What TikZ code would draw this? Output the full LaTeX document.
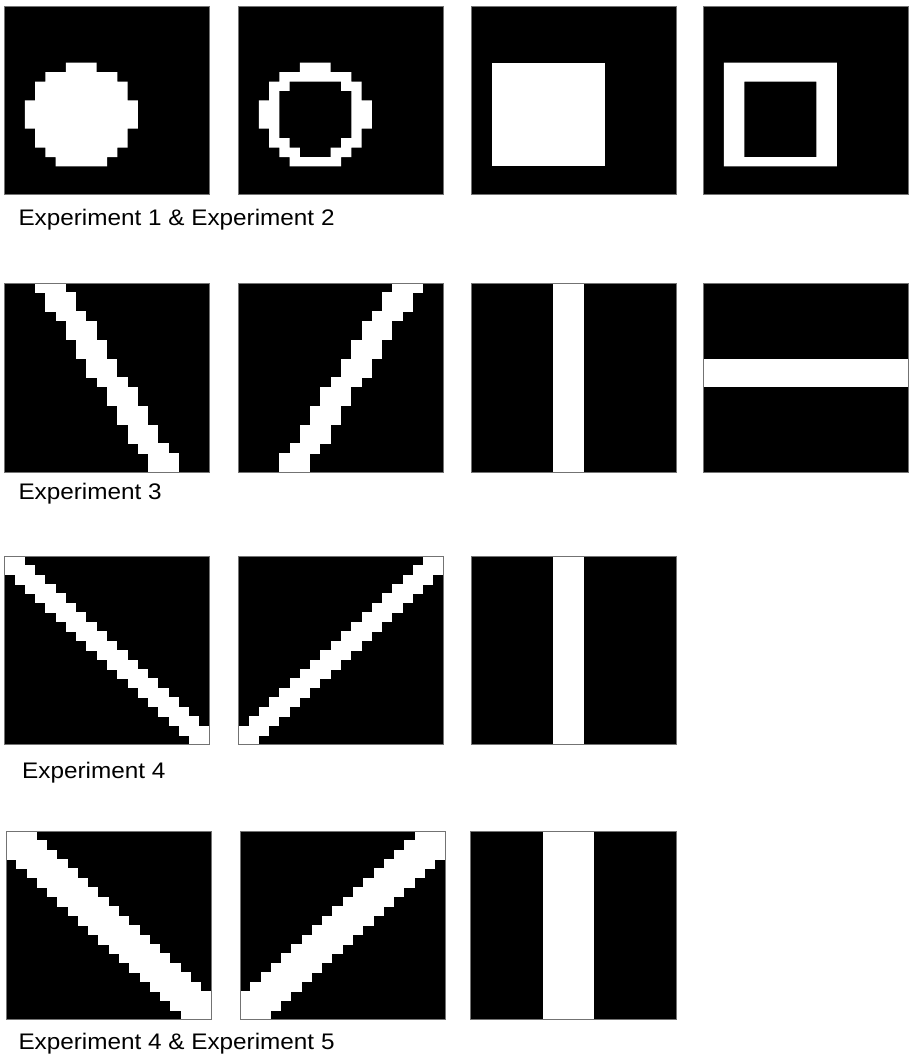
\documentclass[tikz,border=0pt]{standalone}
\usepackage{fontspec}
\setmainfont{Liberation Sans}
\begin{document}
\begin{tikzpicture}[x=1pt,y=-1pt,
  lbl/.style={anchor=base west,inner sep=0pt,xscale=1.08,font=\fontsize{22.5}{27}\selectfont},
  wcell/.style={fill=white},
  pborder/.style={draw=black!55,line width=0.7pt}]
\useasboundingbox (0,0) rectangle (909,1056);
\newcommand\pnl[3]{%
  \begin{scope}[shift={(#1,#2)},x=10.27pt,y=-9.44pt]
    \fill[black] (0,0) rectangle (20,20);
    \begin{scope}
      \clip (0,0) rectangle (20,20);
      #3
    \end{scope}
    \draw[pborder] (0,0) rectangle (20,20);
  \end{scope}}
% ---------- Row 1 ----------
\pnl{4.3}{6}{%
  \fill[wcell] (6,6) -- (9,6) -- (9,7) -- (11,7) -- (11,8) -- (12,8) -- (12,10) -- (13,10) -- (13,13) -- (12,13) -- (12,15) -- (11,15) -- (11,16) -- (10,16) -- (10,17) -- (5,17) -- (5,16) -- (4,16) -- (4,15) -- (3,15) -- (3,13) -- (2,13) -- (2,10) -- (3,10) -- (3,8) -- (4,8) -- (4,7) -- (6,7) -- cycle;}
\pnl{238.3}{6}{%
  \fill[wcell,even odd rule] (6,6) -- (9,6) -- (9,7) -- (11,7) -- (11,8) -- (12,8) -- (12,10) -- (13,10) -- (13,13) -- (12,13) -- (12,15) -- (11,15) -- (11,16) -- (10,16) -- (10,17) -- (5,17) -- (5,16) -- (4,16) -- (4,15) -- (3,15) -- (3,13) -- (2,13) -- (2,10) -- (3,10) -- (3,8) -- (4,8) -- (4,7) -- (6,7) -- cycle
  (5,8) -- (10,8) -- (10,9) -- (11,9) -- (11,14) -- (10,14) -- (10,15) -- (9,15) -- (9,16) -- (6,16) -- (6,15) -- (5,15) -- (5,14) -- (4,14) -- (4,9) -- (5,9) -- cycle;}
\pnl{471}{6}{%
  \fill[wcell] (2,6) rectangle (13,17);}
\pnl{703.3}{6}{%
  \fill[wcell,even odd rule] (2,6) rectangle (13,17) (4,8) rectangle (11,16);}
\node[lbl] (lab1) at (18.3,226) {Experiment 1 \& Experiment 2};
% ---------- Row 2 ----------
\pnl{4.3}{283.3}{%
  \foreach \r/\c in {0/3,1/4,2/4,3/5,4/6,5/6,6/7,7/7,8/8,9/8,10/9,11/10,12/10,13/11,14/11,15/12,16/12,17/13,18/14,19/14}
    {\fill[wcell] (\c,\r-0.03) rectangle (\c+3,\r+1.03);}}
\pnl{238.3}{283.3}{%
  \foreach \r/\c in {0/15,1/14,2/14,3/13,4/12,5/12,6/11,7/11,8/10,9/10,10/9,11/8,12/8,13/7,14/7,15/6,16/6,17/5,18/4,19/4}
    {\fill[wcell] (\c,\r-0.03) rectangle (\c+3,\r+1.03);}}
\pnl{471}{283.3}{%
  \fill[wcell] (8,0) rectangle (11,20);}
\pnl{703.3}{283.3}{%
  \fill[wcell] (0,8) rectangle (20,11);}
\node[lbl] (lab2) at (18.3,499) {Experiment 3};
% ---------- Row 3 ----------
\pnl{4.3}{556}{%
  \foreach \r in {0,...,19}
    {\fill[wcell] (\r-1,\r-0.03) rectangle (\r+2,\r+1.03);}}
\pnl{238.3}{556}{%
  \foreach \r in {0,...,19}
    {\fill[wcell] (18-\r,\r-0.03) rectangle (21-\r,\r+1.03);}}
\pnl{471}{556}{%
  \fill[wcell] (8,0) rectangle (11,20);}
\node[lbl] (lab3) at (22,778) {Experiment 4};
% ---------- Row 4 ----------
\pnl{6}{831}{%
  \foreach \r in {0,...,19}
    {\fill[wcell] (\r-2,\r-0.03) rectangle (\r+3,\r+1.03);}}
\pnl{240}{831}{%
  \foreach \r in {0,...,19}
    {\fill[wcell] (17-\r,\r-0.03) rectangle (22-\r,\r+1.03);}}
\pnl{470.7}{831}{%
  \fill[wcell] (7,0) rectangle (12,20);}
\node[lbl] (lab4) at (18.3,1049) {Experiment 4 \& Experiment 5};
\end{tikzpicture}
\end{document}
